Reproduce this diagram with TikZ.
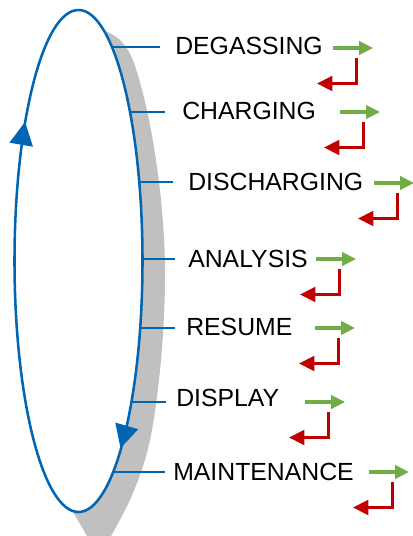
\documentclass[tikz,border=0pt]{standalone}
\usepackage{fontspec}
\setmainfont{Liberation Sans}
\usetikzlibrary{arrows.meta}

\definecolor{cycleblue}{RGB}{0,101,179}
\definecolor{shadowgray}{RGB}{192,192,192}
\definecolor{fwdgreen}{RGB}{112,173,71}
\definecolor{backred}{RGB}{192,0,0}

\tikzset{
  cycleline/.style={draw=cycleblue, line width=1.9pt},
  tickline/.style={draw=cycleblue, line width=1.8pt},
  steplabel/.style={anchor=west, inner sep=0pt, font=\fontsize{18.6pt}{22pt}\selectfont},
  fwdarrow/.style={draw=fwdgreen, line width=2.4pt,
    -{Triangle[length=10.5pt,width=10pt]}},
  backarrow/.style={draw=backred, line width=2.3pt, line join=miter,
    -{Triangle[length=11.5pt,width=11pt]}}
}

\begin{document}
\begin{tikzpicture}[x=0.75pt, y=-0.75pt]
  \useasboundingbox (0,0) rectangle (412,536);

  % crescent shadow along the right side of the cycle
  \fill[shadowgray] plot[smooth, tension=0.6] coordinates {
      (103,30) (121,41) (135,66) (150,125) (161,200) (165,275)
      (161,360) (150,440) (133,493) (111,536)}
    -- (87,536) -- (73,512) -- (62,490) -- (78,261) -- cycle;
  % the cycle itself
  \filldraw[fill=white, cycleline] (78.5,261) ellipse [x radius=48pt, y radius=188.25pt];
  % direction marks on the cycle
  \fill[cycleblue] (25,122) -- (33,146.7) -- (9.4,142.7) -- cycle;
  \fill[cycleblue] (120.5,448) -- (138.3,429.2) -- (115.3,422.6) -- cycle;

  % steps: index/text/tick y/ellipse x/tick end x/label x/label y/arrow y/arrow start x
  \foreach \i/\txt/\ty/\ex/\tx/\lx/\ly/\gy/\gs in {
      1/DEGASSING/47/112/160/175/46/48/333,
      2/CHARGING/112/130/165/182/110.5/112/340,
      3/DISCHARGING/182/139.3/173/188/182/183/374,
      4/ANALYSIS/259/142.5/175/188/259/259/316,
      5/RESUME/328/140.2/175/186/327/328/315,
      6/DISPLAY/402/131.4/166/176/397.5/402/305,
      7/MAINTENANCE/472/113.2/165/173/472/472/369}
  {
    \node[steplabel] (lab\i) at (\lx,\ly) {\txt};
    \coordinate (on\i) at (\ex,\ty);
    \coordinate (tk\i) at (\tx,\ty);
    \draw[tickline] (on\i) -- (tk\i);
    \coordinate (gA\i) at (\gs,\gy);
    \coordinate (gB\i) at ({\gs+40},\gy);
    \coordinate (rA\i) at ({\gs+23.5},{\gy+10});
    \coordinate (rB\i) at ({\gs+23.5},{\gy+35.5});
    \coordinate (rC\i) at ({\gs-16},{\gy+35.5});
    \draw[fwdarrow] (gA\i) -- (gB\i);
    \draw[backarrow] (rA\i) -- (rB\i) -- (rC\i);
  }
\end{tikzpicture}
\end{document}
